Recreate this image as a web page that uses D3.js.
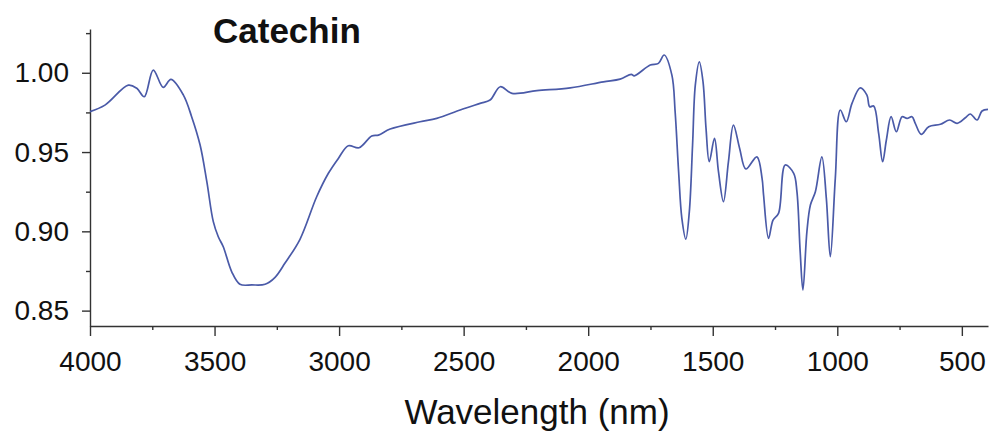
<!DOCTYPE html>
<html>
<head>
<meta charset="utf-8">
<script src="https://cdn.jsdelivr.net/npm/d3@7"></script>
<style>
  body { margin: 0; background: #fff; }
  text { font-family: "Liberation Sans", Arial, sans-serif; fill: #111; }
</style>
</head>
<body>
<div id="chart"></div>
<script>
// wavenumber values
const wavenumber = [4000, 3940, 3846, 3812, 3782, 3746, 3706, 3675, 3625, 3592,
  3558, 3531, 3505, 3485, 3465, 3431, 3398, 3350, 3297, 3257,
  3217, 3157, 3090, 3043, 3003, 2963, 2920, 2869, 2842, 2795,
  2675, 2608, 2514, 2434, 2394, 2353, 2306, 2206, 2072, 1939,
  1872, 1827, 1815, 1751, 1718, 1695, 1664, 1651, 1637, 1624,
  1608, 1594, 1581, 1570, 1554, 1539, 1527, 1514, 1493, 1477,
  1457, 1437, 1417, 1392, 1367, 1323, 1302, 1296, 1276, 1258,
  1236, 1209, 1175, 1162, 1149, 1138, 1122, 1108, 1088, 1062,
  1044, 1028, 1008, 988, 964, 941, 908, 881, 870, 854,
  834, 818, 803, 784, 763, 740, 720, 700, 687, 663,
  633, 586, 549, 519, 486, 466, 439, 419, 395];

const transmittance = [0.9755, 0.9796, 0.9922, 0.9902, 0.9849, 1.0017, 0.9908, 0.9958, 0.9859, 0.9723,
  0.9544, 0.9313, 0.9061, 0.8966, 0.8903, 0.8745, 0.8666, 0.8662, 0.8666, 0.8710,
  0.8800, 0.8950, 0.9218, 0.9366, 0.9460, 0.9540, 0.9527, 0.9601, 0.9607, 0.9645,
  0.9691, 0.9712, 0.9765, 0.9807, 0.9828, 0.9912, 0.9870, 0.9887, 0.9905, 0.9943,
  0.9960, 0.9990, 0.9981, 1.0049, 1.0059, 1.0112, 0.9985, 0.9754, 0.9376, 0.9082,
  0.8951, 0.9124, 0.9544, 0.9922, 1.0069, 0.9943, 0.9649, 0.9439, 0.9586, 0.9376,
  0.9187, 0.9439, 0.9670, 0.9523, 0.9393, 0.9470, 0.9334, 0.9229, 0.8956, 0.9071,
  0.9113, 0.9418, 0.9366, 0.9250, 0.8871, 0.8630, 0.8998, 0.9166, 0.9250, 0.9470,
  0.9208, 0.8840, 0.9334, 0.9765, 0.9691, 0.9807, 0.9905, 0.9859, 0.9786, 0.9790,
  0.9618, 0.9439, 0.9576, 0.9723, 0.9628, 0.9723, 0.9712, 0.9723, 0.9681, 0.9612,
  0.9660, 0.9675, 0.9702, 0.9681, 0.9716, 0.9740, 0.9702, 0.9759, 0.9769];

const xTicks = [4000, 3500, 3000, 2500, 2000, 1500, 1000, 500];
const xMinorTicks = [3750, 3250, 2750, 2250, 1750, 1250, 750];
const yTicks = [0.85, 0.90, 0.95, 1.00];
const yMinorTicks = [0.875, 0.925, 0.975, 1.025];

const title = "Catechin";
const xLabel = "Wavelength (nm)";

const W = 990, H = 432;
const margin = { top: 29, right: 2, bottom: 106, left: 90 };
const x0 = margin.left, x1 = W - margin.right;
const y0 = H - margin.bottom, y1 = margin.top;

const svg = d3.select("#chart").append("svg")
  .attr("width", W)
  .attr("height", H);

const x = d3.scaleLinear().domain([4000, 395]).range([x0, x1]);
const y = d3.scaleLinear().domain([0.8403, 1.0276]).range([y0, y1]);

// minor ticks first so the major axis sits on top
svg.append("g")
  .attr("transform", "translate(0," + y0 + ")")
  .call(d3.axisBottom(x).tickValues(xMinorTicks).tickSize(4).tickSizeOuter(0).tickFormat(""))
  .call(g => g.select(".domain").remove());
svg.append("g")
  .attr("transform", "translate(" + x0 + ",0)")
  .call(d3.axisLeft(y).tickValues(yMinorTicks).tickSize(4).tickSizeOuter(0).tickFormat(""))
  .call(g => g.select(".domain").remove());

const xAxis = svg.append("g")
  .attr("transform", "translate(0," + y0 + ")")
  .call(d3.axisBottom(x).tickValues(xTicks).tickSize(10).tickSizeOuter(0).tickPadding(15).tickFormat(d3.format("d")));
xAxis.selectAll("text").style("font-size", "28px").attr("fill", "#111");

const yAxis = svg.append("g")
  .attr("transform", "translate(" + x0 + ",0)")
  .call(d3.axisLeft(y).tickValues(yTicks).tickSize(8).tickSizeOuter(0).tickPadding(13).tickFormat(d3.format(".2f")));
yAxis.selectAll("text").style("font-size", "28px").attr("fill", "#111");

svg.selectAll(".domain, .tick line").attr("stroke", "#333").attr("stroke-width", 1.4);

const line = d3.line()
  .x((d, i) => x(wavenumber[i]))
  .y(d => y(d))
  .curve(d3.curveCatmullRom.alpha(0.5));

svg.append("path")
  .datum(transmittance)
  .attr("fill", "none")
  .attr("stroke", "#4a5aa8")
  .attr("stroke-width", 1.7)
  .attr("d", line);

svg.append("text")
  .attr("x", 213)
  .attr("y", 43)
  .style("font-size", "35px")
  .style("font-weight", "bold")
  .text(title);

svg.append("text")
  .attr("x", 537)
  .attr("y", 424)
  .attr("text-anchor", "middle")
  .style("font-size", "35px")
  .text(xLabel);
</script>
</body>
</html>
